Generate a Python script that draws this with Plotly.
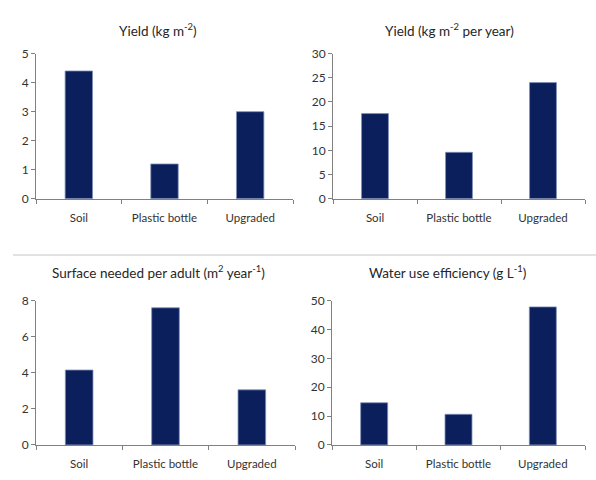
import plotly.graph_objects as go

categories = ["Soil", "Plastic bottle", "Upgraded"]
yield_kg_m2 = [4.4, 1.2, 3.0]
yield_kg_m2_year = [17.6, 9.6, 24.0]
surface_per_adult = [4.15, 7.6, 3.05]
water_use_eff = [14.6, 10.6, 47.8]

titles = [
    "Yield (kg m<sup>-2</sup>)",
    "Yield (kg m<sup>-2</sup> per year)",
    "Surface needed per adult (m<sup>2</sup> year<sup>-1</sup>)",
    "Water use efficiency (g L<sup>-1</sup>)",
]
y_ranges = [(0, 5, 1), (0, 30, 5), (0, 8, 2), (0, 50, 10)]
series = [yield_kg_m2, yield_kg_m2_year, surface_per_adult, water_use_eff]

W, H = 596, 480
BAR = "#0a1f5c"
AX = "#808080"
TXT = "#333333"
FONT = "Lato"

# pixel layout for each panel: x0, x1, ytop, ybottom, title center x, title y
panels = [
    (36, 293, 47, 197, 158, 23),
    (333, 585, 47, 197, 449, 23),
    (36, 295, 302, 451, 158, 273),
    (332, 585, 302, 451, 447, 273),
]

fig = go.Figure()
annotations = []
for i, (vals, (x0, x1, yt, yb, tx, ty), (lo, hi, dt), title) in enumerate(
        zip(series, panels, y_ranges, titles)):
    n = "" if i == 0 else str(i + 1)
    fig.add_trace(go.Bar(
        x=categories, y=vals, width=0.32,
        marker=dict(color=BAR, line=dict(color="#7f8fb8", width=0.8)),
        xaxis="x" + n, yaxis="y" + n, showlegend=False,
    ))
    xa = dict(
        domain=[x0 / W, x1 / W], anchor="y" + n,
        showline=True, linecolor=AX, linewidth=1,
        ticks="outside", tickson="boundaries", ticklen=4, tickcolor=AX,
        tickfont=dict(family=FONT, size=11.5, color=TXT),
        showgrid=False, zeroline=False, fixedrange=True,
        ticklabelstandoff=8,
    )
    ya = dict(
        domain=[1 - yb / H, 1 - yt / H], anchor="x" + n,
        range=[lo, hi], dtick=dt, tick0=0,
        showline=True, linecolor=AX, linewidth=1,
        ticks="outside", ticklen=4, tickcolor=AX,
        tickfont=dict(family=FONT, size=12, color=TXT),
        showgrid=False, zeroline=False, fixedrange=True,
    )
    fig.layout["xaxis" + n] = xa
    fig.layout["yaxis" + n] = ya
    annotations.append(dict(
        text=title, x=tx / W, y=1 - ty / H, xref="paper", yref="paper",
        xanchor="center", yanchor="middle", showarrow=False,
        font=dict(family=FONT, size=13.5, color="#262626"),
    ))

fig.update_layout(
    width=W, height=H,
    margin=dict(l=0, r=0, t=0, b=0),
    paper_bgcolor="white", plot_bgcolor="white",
    annotations=annotations,
    shapes=[dict(type="line", xref="paper", yref="paper",
                 x0=13 / W, x1=1, y0=1 - 255 / H, y1=1 - 255 / H,
                 line=dict(color="#d9d9d9", width=1.5))],
)

fig.write_html("out.html")
